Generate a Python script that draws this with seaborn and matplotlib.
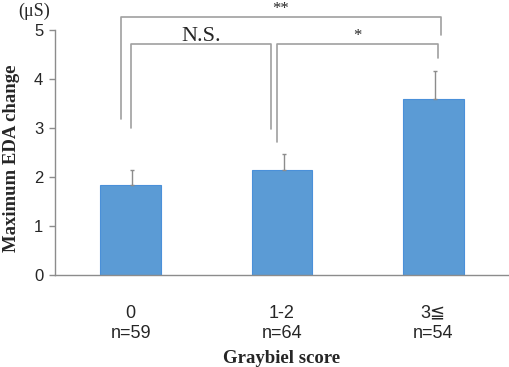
import pandas as pd
import numpy as np
import matplotlib
matplotlib.use('Agg')
import matplotlib.pyplot as plt
import seaborn as sns

# Data
groups = ['0', '1-2', '3≦']
n_counts = [59, 64, 54]
eda_mean = [1.84, 2.14, 3.59]
eda_err = [0.30, 0.33, 0.57]

df = pd.DataFrame({'group': groups, 'eda': eda_mean})

sns.set_style('white')
plt.rcParams['font.family'] = ['Liberation Sans', 'DejaVu Sans']

fig = plt.figure(figsize=(5.1, 3.67), dpi=100)
ax = fig.add_axes([55 / 510, 92 / 367, 454 / 510, 245 / 367])

sns.barplot(x='group', y='eda', data=df, order=groups, color='#5B9BD5',
            width=0.4, edgecolor='#4A90D9', linewidth=0.8, saturation=1, ax=ax)

# upper error bars only
xs = np.arange(len(groups))
ax.errorbar(xs + 0.01, eda_mean, yerr=[np.zeros(len(groups)), eda_err], fmt='none',
            ecolor='#8c8c8c', elinewidth=1.0, capsize=1.5, capthick=1.0)

ax.set_xlim(-0.5, 2.5)
ax.set_ylim(0, 5)
ax.set_yticks([0, 1, 2, 3, 4, 5])
ax.tick_params(axis='y', direction='out', length=4.5, color='#8c8c8c', width=1,
               labelsize=12, pad=4, left=True)
ax.set_xticks(xs)
ax.set_xticklabels([f'{g}\nn={n}' for g, n in zip(groups, n_counts)], fontsize=13,
                   linespacing=1.25)
ax.tick_params(axis='x', length=0, pad=21.5)
ax.set_xticks([0.5, 1.5, 2.5], minor=True)
ax.tick_params(axis='x', which='minor', direction='out', length=3, color='#8c8c8c', width=1)

for s in ['top', 'right']:
    ax.spines[s].set_visible(False)
for s in ['left', 'bottom']:
    ax.spines[s].set_color('#8c8c8c')
    ax.spines[s].set_linewidth(1)

ax.set_xlabel('Graybiel score', fontsize=13.5, fontweight='bold',
              family='Liberation Serif', labelpad=6)
ax.set_ylabel('Maximum EDA change', fontsize=13.5, fontweight='bold',
              family='Liberation Serif')
ax.yaxis.set_label_coords(-0.078, 0.478)
ax.text(-0.64, 5.2, '(μS)', fontsize=13, family='Liberation Serif',
        ha='center', va='bottom', transform=ax.transData, clip_on=False)

# significance brackets
bcol = '#a0a0a0'
def bracket(x1, x2, y1, y2, top, label, ty, fs):
    ax.plot([x1, x1, x2, x2], [y1, top, top, y2], color=bcol, lw=1.2, clip_on=False)
    ax.text((x1 + x2) / 2, ty, label, ha='center', va='baseline', fontsize=fs,
            family='Liberation Serif', clip_on=False)

bracket(-0.066, 2.05, 3.18, 4.9, 5.27, '**', 5.34, 12)
bracket(0.0, 0.93, 3.0, 2.98, 4.71, 'N.S.', 4.78, 16)
bracket(0.97, 2.03, 2.71, 4.43, 4.71, '*', 4.8, 12)

fig.savefig('out.png', dpi=100)
